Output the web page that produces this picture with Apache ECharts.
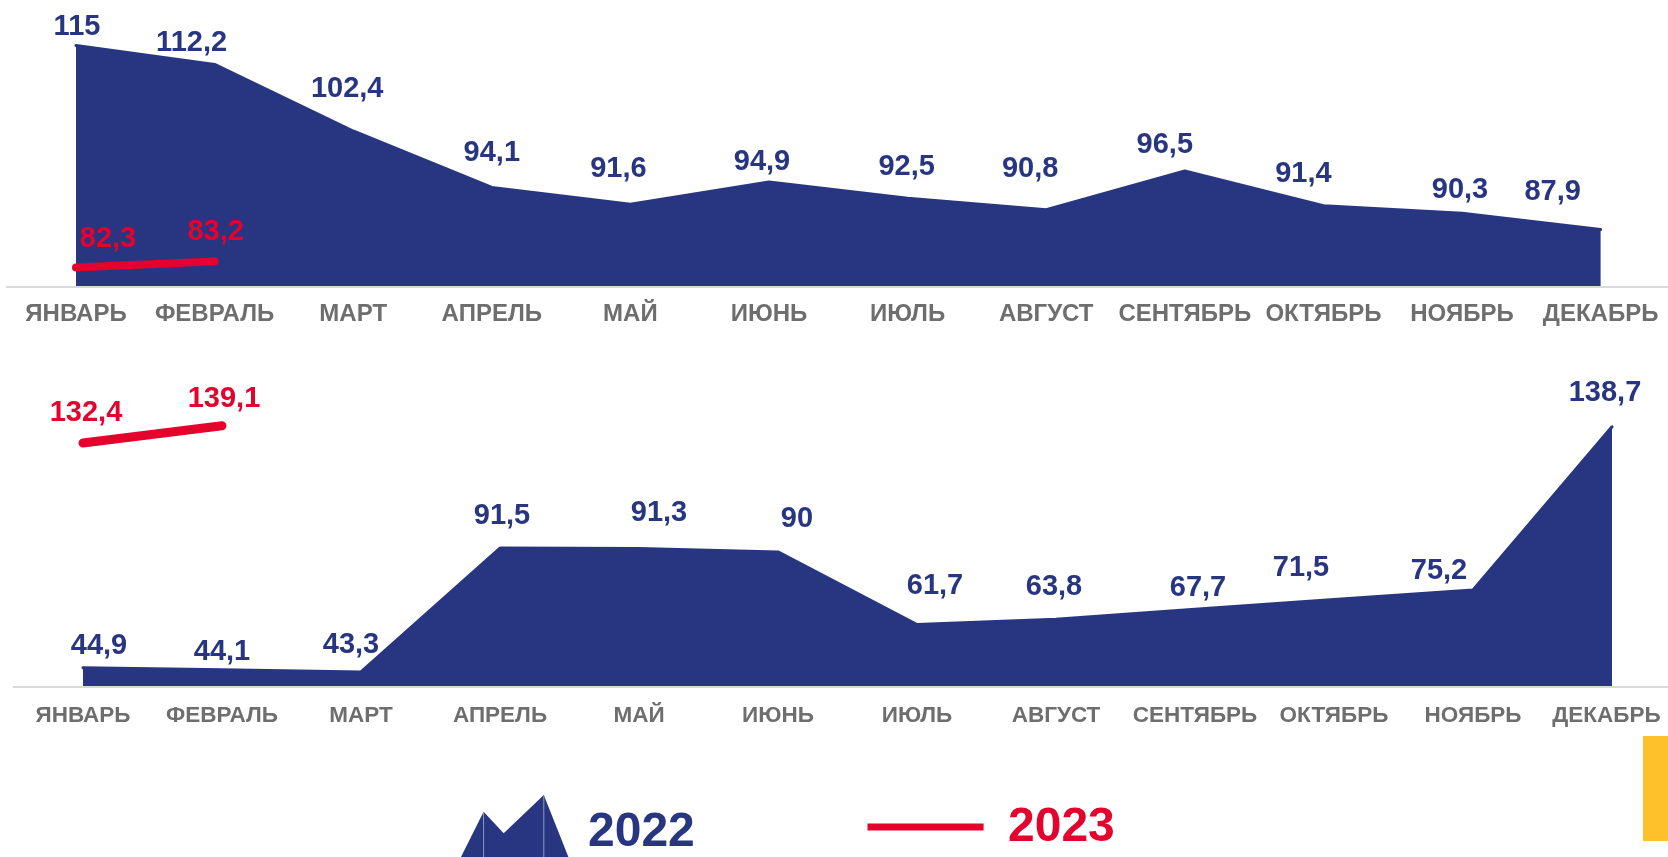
<!DOCTYPE html>
<html>
<head>
<meta charset="utf-8">
<script src="https://cdn.jsdelivr.net/npm/echarts@6/dist/echarts.min.js"></script>
<style>
html,body{margin:0;padding:0;background:#fff;overflow:hidden;}
#chart{width:1700px;height:857px;}
</style>
</head>
<body>
<div id="chart"></div>
<script>
// ---- data ----
const months = ['ЯНВАРЬ','ФЕВРАЛЬ','МАРТ','АПРЕЛЬ','МАЙ','ИЮНЬ','ИЮЛЬ','АВГУСТ','СЕНТЯБРЬ','ОКТЯБРЬ','НОЯБРЬ','ДЕКАБРЬ'];
const top2022 = [115, 112.2, 102.4, 94.1, 91.6, 94.9, 92.5, 90.8, 96.5, 91.4, 90.3, 87.9];
const top2023 = [82.3, 83.2];
const bottom2022 = [44.9, 44.1, 43.3, 91.5, 91.3, 90, 61.7, 63.8, 67.7, 71.5, 75.2, 138.7];
const bottom2023 = [132.4, 139.1];
const years = ['2022', '2023'];

// ---- styling ----
const NAVY = '#283681';
const RED = '#E3032D';
const GRAY = '#6E6E6E';
const FONT = '"Liberation Sans", Arial, sans-serif';

// label nudges (text placement only)
const nudgeTop2022 = [[1,12],[-23,9],[-6,-12],[0,-4],[-12,-5],[-7,10],[-1,-1],[-16,-11],[-20,4],[-20,-2],[-2,7],[-48,-7]];
const nudgeTop2023 = [[32,2],[1,1]];
const nudgeBot2022 = [[16,8],[0,12],[-10,3],[2,-2],[20,-6],[19,-3],[18,-9],[-2,-2],[3,9],[-33,-1],[-34,11],[-7,-4]];
const nudgeBot2023 = [[3,0],[2,3]];

function fmt(p){ return String(p.value).replace('.', ','); }
function items(vals, nudges){
  return vals.map((v,i)=>({value:v, label:{offset:nudges[i]}}));
}
function labelStyle(color){
  return {show:true, position:'top', distance:15, color:color, fontFamily:FONT,
          fontWeight:'bold', fontSize:29, formatter:fmt};
}
function xAxisCfg(gridIndex, margin, size, cats){
  return {type:'category', gridIndex:gridIndex, data:cats, boundaryGap:true, z:5,
    axisLine:{show:true, lineStyle:{color:'#d9d9d9', width:2}},
    axisTick:{show:false}, splitLine:{show:false},
    axisLabel:{interval:0, margin:margin, color:GRAY, fontFamily:FONT, fontWeight:'bold', fontSize:size}};
}
function areaSeries(xi, vals, nudges){
  return {type:'line', xAxisIndex:xi, yAxisIndex:xi, data:items(vals,nudges),
    symbol:'circle', symbolSize:1, showSymbol:true,
    lineStyle:{color:NAVY, width:3, cap:'round', join:'round'},
    areaStyle:{color:NAVY, opacity:1}, itemStyle:{color:NAVY},
    label:labelStyle(NAVY), z:2};
}
function redSeries(xi, vals, nudges, w){
  return {type:'line', xAxisIndex:xi, yAxisIndex:xi, data:items(vals,nudges),
    symbol:'circle', symbolSize:1, showSymbol:true,
    lineStyle:{color:RED, width:w, cap:'round', join:'round'}, itemStyle:{color:RED},
    label:labelStyle(RED), z:3};
}
// bottom axis: last label sits a little left of its point
const bottomCats = months.map((m,i)=> i === months.length-1 ? {value:m, textStyle:{padding:[0,11,0,0]}} : m);

const chart = echarts.init(document.getElementById('chart'), null, {renderer:'canvas'});
chart.setOption({
  animation:false,
  backgroundColor:'#ffffff',
  grid:[
    {left:6.7, width:1663.2, top:11.5, bottom:570.5},
    {left:13.5, width:1668, top:397.7, bottom:170.2}
  ],
  xAxis:[xAxisCfg(0,16,24,months), xAxisCfg(1,17.5,22.5,bottomCats)],
  yAxis:[
    {type:'value', gridIndex:0, min:79.5, max:120, show:false},
    {type:'value', gridIndex:1, min:37.5, max:150, show:false}
  ],
  series:[
    areaSeries(0, top2022, nudgeTop2022),
    redSeries(0, top2023, nudgeTop2023, 8),
    areaSeries(1, bottom2022, nudgeBot2022),
    redSeries(1, bottom2023, nudgeBot2023, 9)
  ],
  graphic:[
    {type:'polygon', shape:{points:[[461,857],[483.6,811.7],[503.7,833.3],[543.8,795],[568.4,857]]}, style:{fill:NAVY}},
    {type:'line', shape:{x1:483.6,y1:812,x2:483.6,y2:857}, style:{stroke:'#8e97c9', lineWidth:1}},
    {type:'line', shape:{x1:543.8,y1:796,x2:543.8,y2:857}, style:{stroke:'#8e97c9', lineWidth:1}},
    {type:'text', x:588, y:833, style:{text:years[0], fill:NAVY, font:'bold 48px '+FONT, textAlign:'left', textVerticalAlign:'middle'}},
    {type:'line', shape:{x1:867.5,y1:827,x2:983.6,y2:827}, style:{stroke:RED, lineWidth:7}},
    {type:'text', x:1008, y:828, style:{text:years[1], fill:RED, font:'bold 48px '+FONT, textAlign:'left', textVerticalAlign:'middle'}},
    {type:'rect', shape:{x:1643, y:736, width:25, height:105}, style:{fill:'#FEC12B'}}
  ]
});
</script>
</body>
</html>
